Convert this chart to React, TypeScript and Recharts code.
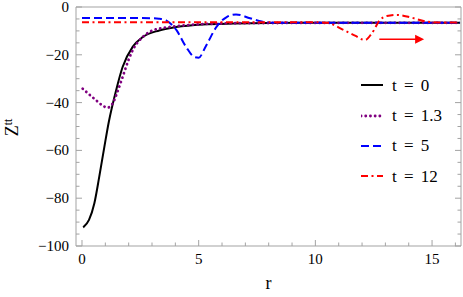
import { LineChart, Line, XAxis, YAxis, ReferenceLine, ReferenceDot, Legend } from 'recharts';

// t = 0
const rT0 = [0.05, 0.3, 0.53, 0.74, 0.96, 1.15, 1.46, 1.74, 2.17, 2.6, 3.31, 4.03, 5.17, 6.5, 8, 10, 12, 14, 16.2];
const zT0 = [-92.2, -89.1, -82.1, -71, -58.4, -48, -34.9, -25.1, -16.7, -12.6, -9.8, -8.4, -7.3, -6.9, -6.7, -6.6, -6.6, -6.6, -6.6];

// t = 1.3
const rT13 = [0.03, 0.3, 0.6, 0.85, 1.1, 1.31, 1.5, 1.74, 2.0, 2.17, 2.6, 3.03, 3.74, 4.5, 6, 8, 16.2];
const zT13 = [-34.2, -36.5, -39, -41, -42.1, -40.4, -36, -29.3, -22, -18.1, -12.6, -9.8, -8.4, -7.6, -6.9, -6.7, -6.6];

// t = 5
const rT5 = [0, 1, 2, 3, 3.3, 3.6, 4.05, 4.46, 4.81, 5.0, 5.3, 5.77, 6.2, 6.6, 7.2, 7.7, 8.3, 10, 16.2];
const zT5 = [-4.6, -4.6, -4.6, -4.7, -4.9, -5.6, -9.7, -16.7, -20.9, -21.2, -16.5, -8.2, -4.2, -3.1, -4.7, -6.1, -6.6, -6.6, -6.6];

// t = 12
const rT12 = [0, 4, 8, 10, 10.5, 11.2, 11.7, 12.13, 12.42, 12.77, 13.06, 13.49, 14.06, 14.77, 15.5, 16.2];
const zT12 = [-6.4, -6.4, -6.4, -6.4, -6.6, -9.6, -12, -13.8, -11, -5.4, -3.8, -3.3, -4.3, -6.1, -6.5, -6.5];

const legendLabels = ['t = 0', 't = 1.3', 't = 5', 't = 12'];

const xTicks = Array.from({ length: 17 }, (_, i) => i);
const xLabelTicks = [0, 5, 10, 15];
const yTicks = Array.from({ length: 21 }, (_, i) => -100 + i * 5);
const yLabelTicks = [-100, -80, -60, -40, -20, 0];

// arrow annotation (data coords)
const arrowFrom = 12.74;
const arrowTo = 14.66;
const arrowLevel = -13.5;

const FRAME = '#a3a3a3';
const FONT = 'Liberation Serif, LiberationSerif, DejaVu Serif, Noto Serif, FreeSerif, Georgia, serif';

const toPoints = (r: number[], z: number[]) => r.map((v, i) => ({ r: v, z: z[i] }));

const series = [
  { name: legendLabels[0], data: toPoints(rT0, zT0), color: '#000000', width: 2, dash: undefined, cap: 'butt' },
  { name: legendLabels[1], data: toPoints(rT13, zT13), color: '#800080', width: 2.8, dash: '0.1 4.6', cap: 'round' },
  { name: legendLabels[2], data: toPoints(rT5, zT5), color: '#0000ff', width: 2, dash: '8 4', cap: 'butt' },
  { name: legendLabels[3], data: toPoints(rT12, zT12), color: '#ff0000', width: 2, dash: '7 3.5 2 3.5', cap: 'butt' },
];

const fmt = (v: number) => (v < 0 ? `\u2212${Math.abs(v)}` : `${v}`);

function BottomTick({ x, y, payload }: any) {
  const major = xLabelTicks.includes(payload.value);
  return (
    <g>
      <line x1={x} x2={x} y1={y} y2={y - (major ? 6 : 3.5)} stroke={FRAME} />
      {major && (
        <text x={x} y={y + 18} textAnchor="middle" fontSize={15} fontFamily={FONT} fill="#000">
          {payload.value}
        </text>
      )}
    </g>
  );
}

function TopTick({ x, y, payload }: any) {
  const major = xLabelTicks.includes(payload.value);
  return <line x1={x} x2={x} y1={y} y2={y + (major ? 6 : 3.5)} stroke={FRAME} />;
}

function LeftTick({ x, y, payload }: any) {
  const major = yLabelTicks.includes(payload.value);
  return (
    <g>
      <line x1={x} x2={x + (major ? 6 : 3.5)} y1={y} y2={y} stroke={FRAME} />
      {major && (
        <text x={x - 7} y={y + 5} textAnchor="end" fontSize={15} fontFamily={FONT} fill="#000">
          {fmt(payload.value)}
        </text>
      )}
    </g>
  );
}

function RightTick({ x, y, payload }: any) {
  const major = yLabelTicks.includes(payload.value);
  return <line x1={x} x2={x - (major ? 6 : 3.5)} y1={y} y2={y} stroke={FRAME} />;
}

function YTitle({ viewBox }: any) {
  const cx = viewBox.x + 18;
  const cy = viewBox.y + viewBox.height / 2 + 1;
  return (
    <text x={cx} y={cy} transform={`rotate(-90 ${cx} ${cy})`} textAnchor="middle" fontFamily={FONT} fontSize={18} fill="#000">
      Z<tspan fontSize={12} dy={-6}>tt</tspan>
    </text>
  );
}

function XTitle({ viewBox }: any) {
  return (
    <text x={viewBox.x + viewBox.width / 2} y={viewBox.y + 43} textAnchor="middle" fontFamily={FONT} fontSize={18} fill="#000">
      r
    </text>
  );
}

function LegendBox() {
  return (
    <div style={{ fontFamily: FONT, fontSize: 17, color: '#000' }}>
      {series.map((s) => (
        <div key={s.name} style={{ display: 'flex', alignItems: 'center', height: 30.4 }}>
          <svg width={22} height={10} style={{ marginRight: 9 }}>
            <line x1={0} x2={22} y1={5} y2={5} stroke={s.color} strokeWidth={s.width} strokeDasharray={s.dash} strokeLinecap={s.cap as any} />
          </svg>
          <span style={{ wordSpacing: 3, lineHeight: '17px' }}>{s.name}</span>
        </div>
      ))}
    </div>
  );
}

function ArrowHead({ cx, cy }: any) {
  return <polygon points={`${cx},${cy} ${cx - 9},${cy - 4.5} ${cx - 9},${cy + 4.5}`} fill="#ff0000" />;
}

export default function App() {
  const domainX: [number, number] = [-0.257, 16.24];
  const domainY: [number, number] = [-100, 0];
  return (
    <div style={{ position: 'absolute', left: 0, top: 0, fontFamily: FONT }}>
      <LineChart width={463} height={297} margin={{ top: 6, right: 1, bottom: 0, left: 0 }}>
        <XAxis
          xAxisId={0}
          dataKey="r"
          type="number"
          domain={domainX}
          allowDataOverflow
          ticks={xTicks}
          interval={0}
          tickSize={0}
          tickMargin={0}
          tick={<BottomTick />}
          height={51}
          stroke={FRAME}
          label={<XTitle />}
        />
        <XAxis
          xAxisId="top"
          orientation="top"
          type="number"
          domain={domainX}
          allowDataOverflow
          ticks={xTicks}
          interval={0}
          tickSize={0}
          tickMargin={0}
          tick={<TopTick />}
          height={1}
          stroke={FRAME}
        />
        <YAxis
          yAxisId={0}
          type="number"
          domain={domainY}
          allowDataOverflow
          ticks={yTicks}
          interval={0}
          tickSize={0}
          tickMargin={0}
          tick={<LeftTick />}
          width={76}
          stroke={FRAME}
          label={<YTitle />}
        />
        <YAxis
          yAxisId="right"
          orientation="right"
          type="number"
          domain={domainY}
          allowDataOverflow
          ticks={yTicks}
          interval={0}
          tickSize={0}
          tickMargin={0}
          tick={<RightTick />}
          width={1}
          stroke={FRAME}
        />
        {series.map((s) => (
          <Line
            key={s.name}
            data={s.data}
            dataKey="z"
            name={s.name}
            type="monotone"
            stroke={s.color}
            strokeWidth={s.width}
            strokeDasharray={s.dash}
            strokeLinecap={s.cap as any}
            dot={false}
            activeDot={false}
            isAnimationActive={false}
          />
        ))}
        <ReferenceLine
          segment={[
            { x: arrowFrom, y: arrowLevel },
            { x: arrowTo - 0.34, y: arrowLevel },
          ]}
          stroke="#ff0000"
          strokeWidth={1.6}
        />
        <ReferenceDot x={arrowTo} y={arrowLevel} r={4} shape={<ArrowHead />} />
        <Legend
          layout="vertical"
          align="center"
          verticalAlign="middle"
          content={<LegendBox />}
          wrapperStyle={{ position: 'absolute', left: 361, top: 70, width: 100 }}
        />
      </LineChart>
    </div>
  );
}
